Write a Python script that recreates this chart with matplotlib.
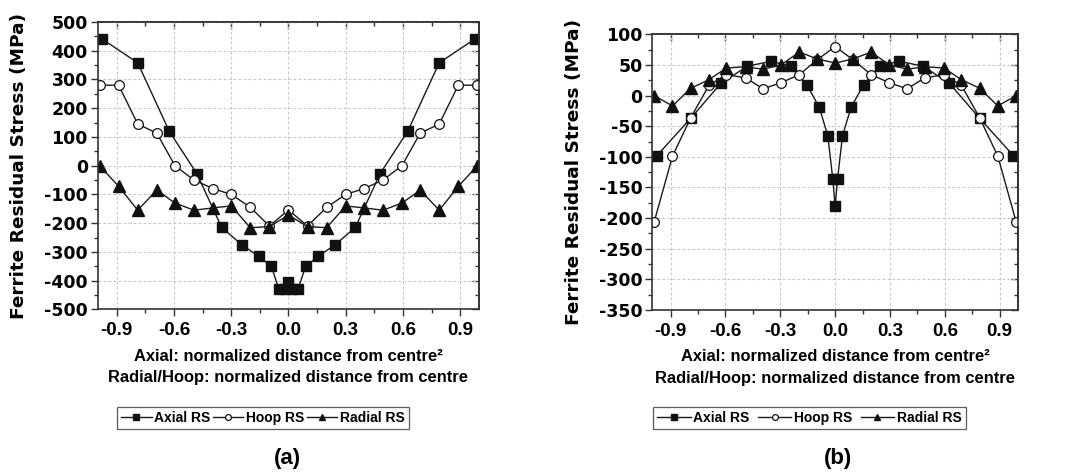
import matplotlib
matplotlib.use("Agg")
import matplotlib.pyplot as plt
from matplotlib.ticker import MultipleLocator, FixedLocator, NullFormatter
import numpy as np

plt.rcParams['font.family'] = ['Liberation Sans', 'DejaVu Sans']
plt.rcParams['font.weight'] = 'bold'
plt.rcParams['axes.unicode_minus'] = False

# ---------- Panel (a) ----------
a_axial_x = [-0.975, -0.79, -0.625, -0.48, -0.35, -0.245, -0.157, -0.09, -0.05, -0.02, 0.0, 0.02, 0.05,
             0.09, 0.157, 0.245, 0.35, 0.48, 0.625, 0.79, 0.975]
a_axial_y = [440, 358, 120, -28, -215, -275, -315, -350, -430, -430, -405, -430, -430,
             -350, -315, -275, -215, -28, 120, 358, 440]
a_hoop_x = [-0.99, -0.89, -0.79, -0.69, -0.595, -0.495, -0.395, -0.3, -0.2, -0.1, 0.0,
            0.1, 0.2, 0.3, 0.395, 0.495, 0.595, 0.69, 0.79, 0.89, 0.99]
a_hoop_y = [280, 280, 145, 113, 0, -50, -80, -100, -145, -210, -154,
            -210, -145, -100, -80, -50, 0, 113, 145, 280, 280]
a_radial_x = a_hoop_x
a_radial_y = [0, -72, -155, -85, -130, -155, -147, -140, -216, -212, -172,
              -212, -216, -140, -147, -155, -130, -85, -155, -72, 0]

# ---------- Panel (b) ----------
b_axial_x = [-0.975, -0.79, -0.625, -0.48, -0.35, -0.244, -0.156, -0.087, -0.04, -0.013, 0.0, 0.013, 0.04,
             0.087, 0.156, 0.244, 0.35, 0.48, 0.625, 0.79, 0.975]
b_axial_y = [-98, -37, 20, 48, 56, 48, 18, -19, -66, -136, -181, -136, -66,
             -19, 18, 48, 56, 48, 20, -37, -98]
b_hoop_x = [-0.99, -0.89, -0.79, -0.69, -0.595, -0.49, -0.394, -0.296, -0.197, -0.1, 0.0,
            0.1, 0.197, 0.296, 0.394, 0.49, 0.595, 0.69, 0.79, 0.89, 0.99]
b_hoop_y = [-206, -99, -36, 17, 34, 29, 11, 21, 34, 58, 80,
            58, 34, 21, 11, 29, 34, 17, -36, -99, -206]
b_radial_x = b_hoop_x
b_radial_y = [0, -17, 12, 26, 45, 47, 43, 50, 71, 60, 53,
              60, 71, 50, 43, 47, 45, 26, 12, -17, 0]

x_ticks = [-0.9, -0.6, -0.3, 0.0, 0.3, 0.6, 0.9]
x_ticklabels = ['-0.9', '-0.6', '-0.3', '0.0', '0.3', '0.6', '0.9']

series_names = ['Axial RS', 'Hoop RS', 'Radial RS']
ylabel = 'Ferrite Residual Stress (MPa)'
xlabel = 'Axial: normalized distance from centre\u00b2\nRadial/Hoop: normalized distance from centre'

fig = plt.figure(figsize=(10.73, 4.73), dpi=100)
axA = fig.add_axes([0.091, 0.346, 0.3557, 0.6075])
axB = fig.add_axes([0.608, 0.3446, 0.3407, 0.5829])

SPINE = '#333333'


def style(ax, ylim, ymin, yticks, ylab_x):
    ax.set_xlim(-1.0, 1.0)
    ax.set_ylim(*ylim)
    ax.xaxis.set_major_locator(FixedLocator(x_ticks))
    ax.set_xticklabels(x_ticklabels)
    ax.xaxis.set_minor_locator(MultipleLocator(0.15))
    ax.set_yticks(yticks)
    ax.set_yticklabels([str(int(v)) for v in yticks])
    ax.yaxis.set_minor_locator(MultipleLocator(ymin))
    ax.grid(True, which='major', linestyle=(0, (2.5, 2)), color='#c8c8c8', linewidth=0.8)
    ax.set_axisbelow(True)
    ax.tick_params(axis='both', which='both', direction='out', color=SPINE, width=1.0)
    ax.tick_params(which='major', length=5)
    ax.tick_params(which='minor', length=3)
    ax.tick_params(axis='x', labelsize=13.5, pad=4)
    ax.tick_params(axis='y', pad=2)
    for lab in ax.get_xticklabels():
        lab.set_fontweight('bold')
    for lab in ax.get_yticklabels():
        lab.set_fontweight('bold')
        lab.set_fontfamily('DejaVu Sans')
        lab.set_fontsize(12.5)
    # inward ticks on top and right
    top = ax.secondary_xaxis('top')
    top.set_xticks(x_ticks)
    top.xaxis.set_minor_locator(MultipleLocator(0.15))
    top.xaxis.set_major_formatter(NullFormatter())
    top.tick_params(which='both', direction='in', color=SPINE, width=1.0)
    top.tick_params(which='major', length=5)
    top.tick_params(which='minor', length=3)
    right = ax.secondary_yaxis('right')
    right.set_yticks(yticks)
    right.yaxis.set_minor_locator(MultipleLocator(ymin))
    right.yaxis.set_major_formatter(NullFormatter())
    right.tick_params(which='both', direction='in', color=SPINE, width=1.0)
    right.tick_params(which='major', length=5)
    right.tick_params(which='minor', length=3)
    for a in (ax, top, right):
        for sp in a.spines.values():
            sp.set_color(SPINE)
            sp.set_linewidth(1.2)
    ax.set_ylabel(ylabel, fontsize=13.3, fontweight='bold', fontfamily='DejaVu Sans')
    ax.yaxis.set_label_coords(ylab_x, 0.5)
    ax.set_xlabel(xlabel, fontsize=11.9, fontweight='bold', linespacing=1.55, labelpad=7)


def plot_series(ax, ax_x, ax_y, h_x, h_y, r_x, r_y):
    kw = dict(color='#1a1a1a', linewidth=1.0)
    l1, = ax.plot(ax_x, ax_y, marker='s', markersize=6.5, markerfacecolor='#111111',
                  markeredgecolor='#111111', label=series_names[0], **kw)
    l2, = ax.plot(h_x, h_y, marker='o', markersize=7, markerfacecolor='white',
                  markeredgecolor='#111111', markeredgewidth=0.9, label=series_names[1], **kw)
    l3, = ax.plot(r_x, r_y, marker='^', markersize=8, markerfacecolor='#111111',
                  markeredgecolor='#111111', label=series_names[2], **kw)
    return [l1, l2, l3]


style(axA, (-500, 500), 50, np.arange(-500, 501, 100), -0.183)
linesA = plot_series(axA, a_axial_x, a_axial_y, a_hoop_x, a_hoop_y, a_radial_x, a_radial_y)
style(axB, (-350, 100), 25, np.arange(-350, 101, 50), -0.19)
linesB = plot_series(axB, b_axial_x, b_axial_y, b_hoop_x, b_hoop_y, b_radial_x, b_radial_y)

for lines, label, colsp, hl, lx, tx in [(linesA, '(a)', 0.15, 2.2, 117, 287),
                                        (linesB, '(b)', 0.6, 2.4, 653, 838)]:
    leg = fig.legend(handles=lines, loc='upper left', bbox_to_anchor=(lx / 1073, 1 - 407 / 473),
                     ncol=3, frameon=True, fancybox=False, edgecolor=SPINE,
                     prop={'weight': 'bold', 'size': 10}, handlelength=hl,
                     handletextpad=0.2, columnspacing=colsp, borderpad=0.3,
                     borderaxespad=0.0, markerscale=0.6)
    leg.get_frame().set_linewidth(0.9)
    fig.text(tx / 1073, 1 - 458 / 473, label, ha='center', va='center',
             fontsize=16, fontweight='bold')

fig.savefig('out.png', dpi=100)
